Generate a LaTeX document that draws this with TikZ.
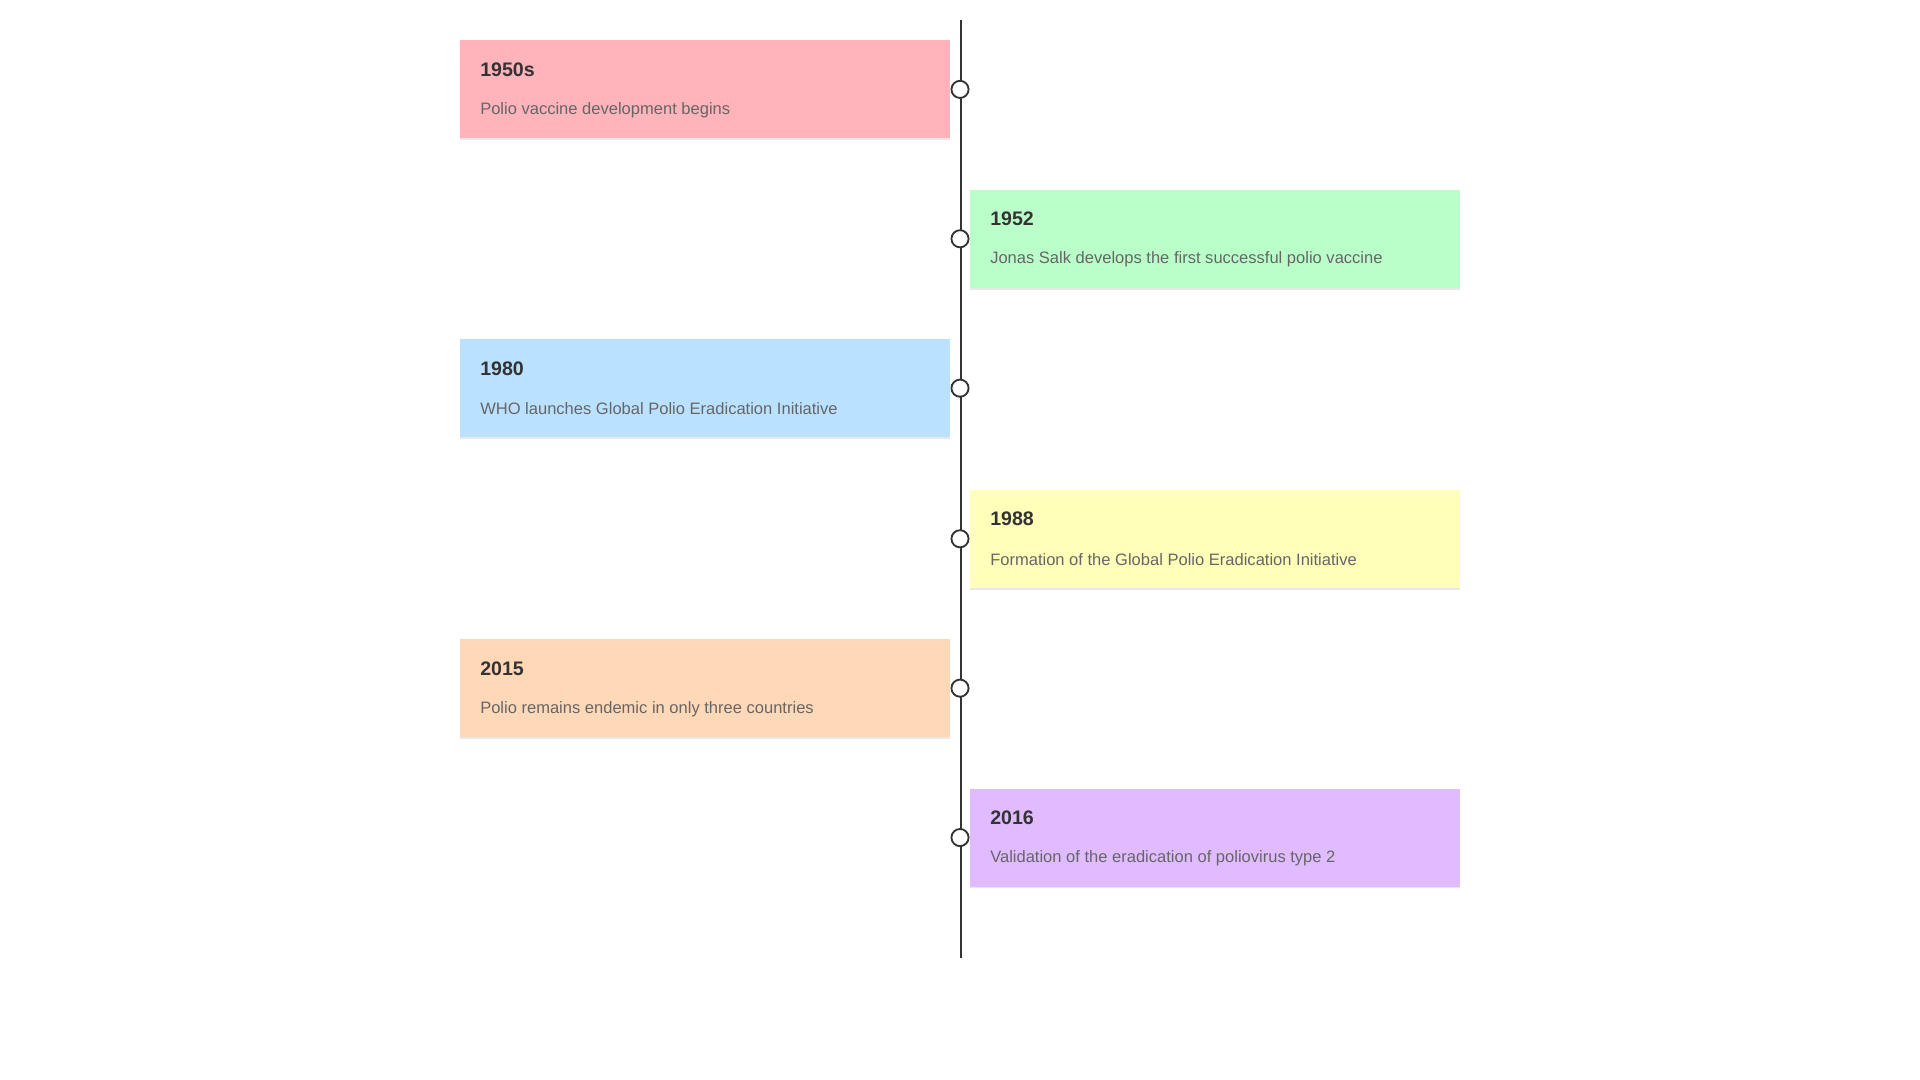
\documentclass[tikz,border=0pt]{standalone}
\usepackage{fontspec}
\setmainfont{Liberation Sans}
\usetikzlibrary{shadows}
\definecolor{c1}{HTML}{FFB3BA}
\definecolor{c2}{HTML}{BAFFC9}
\definecolor{c3}{HTML}{BAE1FF}
\definecolor{c4}{HTML}{FFFFBA}
\definecolor{c5}{HTML}{FFD8B8}
\definecolor{c6}{HTML}{E0BBFF}
\definecolor{ttl}{HTML}{333333}
\definecolor{bdy}{HTML}{666666}
\begin{document}
\begin{tikzpicture}[x=1pt,y=-1pt,
  card/.style={minimum width=400pt,minimum height=80pt,inner sep=0pt,draw=none,
    drop shadow={shadow xshift=0pt,shadow yshift=-1.5pt,opacity=0.18}},
  ttltext/.style={anchor=west,font=\fontsize{16}{18}\selectfont\bfseries,text=ttl,inner sep=0pt},
  bdytext/.style={anchor=west,font=\fontsize{13.5}{16}\selectfont,text=bdy,inner sep=0pt},
  dot/.style={circle,draw=ttl,fill=white,line width=1.5pt,minimum size=14pt,inner sep=0pt}]
\useasboundingbox (0,0) rectangle (1568,882);
\coordinate (top) at (785,16);
\coordinate (bot) at (785,782);
\draw[line width=1.5pt,ttl] (top) -- (bot);
\foreach \i/\y/\side/\col/\yr/\txt in {
  1/73/L/c1/1950s/Polio vaccine development begins,
  2/195/R/c2/1952/Jonas Salk develops the first successful polio vaccine,
  3/317/L/c3/1980/WHO launches Global Polio Eradication Initiative,
  4/440/R/c4/1988/Formation of the Global Polio Eradication Initiative,
  5/562/L/c5/2015/Polio remains endemic in only three countries,
  6/684/R/c6/2016/Validation of the eradication of poliovirus type 2}{
  \if L\side \def\cx{575.5}\def\tx{392}\else \def\cx{992}\def\tx{808.5}\fi
  \node[card,fill=\col] (card\i) at (\cx,\y) {};
  \node[ttltext] (yr\i) at (\tx,\y-16) {\yr};
  \node[bdytext] (tx\i) at (\tx,\y+17) {\txt};
  \node[dot] (dot\i) at (784,\y) {};
}
\end{tikzpicture}
\end{document}
